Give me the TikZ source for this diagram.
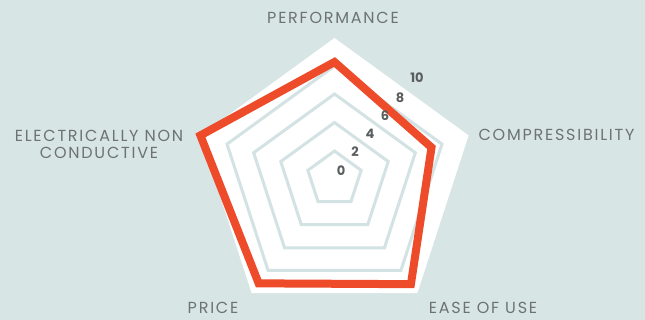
\documentclass[tikz,border=0pt]{standalone}
\usepackage{fontspec}
\setmainfont{Poppins}
\newfontfamily\labelfont{Poppins}[LetterSpace=11]
\definecolor{bgc}{HTML}{D7E5E5}
\definecolor{gridc}{HTML}{D3E2E2}
\definecolor{datac}{HTML}{EE4B2B}
\definecolor{txtc}{HTML}{6E7272}
\definecolor{tickc}{HTML}{5A5E5E}
\begin{document}
\begin{tikzpicture}[x=1pt,y=-1pt,
  gridline/.style={draw=gridc,line width=3pt},
  axislabel/.style={text=txtc,font=\labelfont\fontsize{16}{17}\selectfont,inner sep=0pt,align=center},
  ticklabel/.style={text=tickc,font=\fontsize{13}{13}\selectfont\bfseries,inner sep=0pt},
  dataline/.style={draw=datac,line width=8pt,miter limit=10}]
\fill[bgc] (0,0) rectangle (645,320);
\useasboundingbox (0,0) rectangle (645,320);
\coordinate (C) at (334.5,179);
\begin{scope}[shift={(C)}]
  \fill[white] (-90:141) -- (-18:141) -- (54:141) -- (126:141) -- (198:141) -- cycle;
  \foreach \r in {28,56.5,85,113}{
    \draw[gridline] (-90:\r) -- (-18:\r) -- (54:\r) -- (126:\r) -- (198:\r) -- cycle;
  }
  \draw[dataline] (-90:117) -- (-18:102) -- (54:130) -- (126:129) -- (198:141) -- cycle;
\end{scope}
\node[ticklabel] (t0) at (341,171) {0};
\node[ticklabel] (t2) at (355,152) {2};
\node[ticklabel] (t4) at (370,134) {4};
\node[ticklabel] (t6) at (385,116) {6};
\node[ticklabel] (t8) at (400,98) {8};
\node[ticklabel] (t10) at (417,78) {10};
\node[axislabel] (perf) at (333,17.5) {PERFORMANCE};
\node[axislabel] (comp) at (556.5,135) {COMPRESSIBILITY};
\node[axislabel] (ease) at (483,308) {EASE OF USE};
\node[axislabel] (price) at (213,308) {PRICE};
\node[axislabel] (elec) at (99,144.5) {ELECTRICALLY NON\\CONDUCTIVE};
\end{tikzpicture}
\end{document}
